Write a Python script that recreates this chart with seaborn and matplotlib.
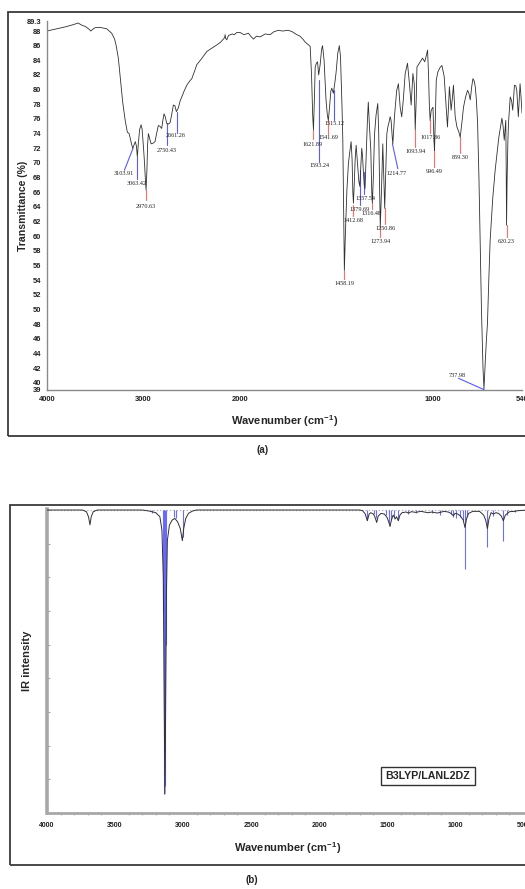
import numpy as np
import pandas as pd
import matplotlib
matplotlib.use("Agg")
import matplotlib.pyplot as plt
import seaborn as sns
from matplotlib.patches import Rectangle

# ---------------- data ----------------
# (a) experimental FT-IR spectrum: wavenumber (cm-1) and transmittance (%)
exp_wn = [4000, 3900, 3800, 3720, 3679, 3640, 3600, 3560, 3547, 3520, 3503, 3450, 3381, 3330, 3300,
          3285, 3261, 3244, 3216, 3190, 3168, 3150, 3140, 3125, 3112, 3100, 3085, 3074, 3064, 3055,
          3040, 3025, 3015, 3000, 2990, 2980, 2974, 2965, 2958, 2950, 2940, 2922, 2900, 2881, 2865,
          2847, 2830, 2812, 2800, 2788, 2775, 2760, 2740, 2725, 2710, 2691, 2675, 2660, 2640, 2620,
          2604, 2580, 2552, 2520, 2500, 2475, 2449, 2400, 2345, 2300, 2241, 2200, 2173, 2160, 2155,
          2150, 2138, 2120, 2100, 2080, 2060, 2034, 2000, 1980, 1957, 1945, 1931, 1915, 1896, 1870,
          1845, 1825, 1802, 1780, 1750, 1730, 1706, 1690, 1675, 1663, 1650, 1637, 1630, 1624, 1620,
          1616, 1611, 1605, 1599, 1593, 1585, 1578, 1573, 1565, 1555, 1548, 1543, 1537, 1530, 1525,
          1517, 1510, 1503, 1494, 1486, 1480, 1477, 1472, 1468, 1464, 1460, 1455, 1450, 1447, 1439,
          1432, 1425, 1420, 1416, 1413, 1409, 1404, 1399, 1395, 1391, 1385, 1380, 1375, 1370, 1366,
          1362, 1357, 1353, 1347, 1341, 1336, 1330, 1323, 1318, 1315, 1310, 1304, 1296, 1287, 1282,
          1278, 1274, 1268, 1261, 1256, 1251, 1246, 1240, 1234, 1228, 1223, 1218, 1212, 1209, 1200,
          1189, 1180, 1171, 1163, 1155, 1145, 1133, 1123, 1114, 1105, 1098, 1093, 1088, 1084, 1067,
          1055, 1044, 1036, 1029, 1024, 1020, 1016, 1010, 1001, 996, 993, 989, 984, 976, 965,
          955, 943, 933, 926, 920, 916, 907, 900, 895, 886, 877, 868, 860, 850, 843,
          832, 822, 815, 808, 800, 794, 788, 782, 776, 770, 763, 757, 750, 742, 737,
          730, 724, 719, 712, 705, 692, 679, 660, 644, 638, 632, 628, 624, 622, 620,
          617, 613, 610, 601, 594, 588, 579, 572, 567, 559, 550, 545, 540]
exp_T = [88.0, 88.3, 88.6, 88.9, 89.1, 88.8, 88.6, 88.2, 88.0, 88.3, 88.45, 88.5, 88.3, 87.7, 86.9,
         86.1, 84.3, 82.0, 78.3, 75.8, 74.2, 74.0, 73.5, 72.6, 72.0, 72.4, 72.9, 72.3, 70.8, 72.5,
         74.6, 75.2, 74.6, 72.0, 70.0, 67.5, 66.3, 69.0, 72.5, 74.0, 73.5, 72.6, 72.7, 72.9, 74.0,
         75.1, 75.0, 74.7, 75.8, 76.7, 76.3, 75.4, 75.3, 75.5, 76.5, 77.9, 77.8, 77.0, 77.5, 78.5,
         79.0, 79.8, 80.6, 81.2, 81.5, 82.4, 83.4, 84.2, 85.2, 85.6, 86.1, 86.5, 86.9, 87.1, 87.5,
         87.0, 86.8, 87.4, 87.5, 87.6, 87.5, 87.8, 87.8, 87.5, 87.7, 87.3, 86.9, 87.3, 87.2, 87.6,
         87.5, 87.9, 88.1, 88.0, 88.1, 87.9, 87.5, 87.3, 86.9, 86.5, 86.2, 85.9, 82.0, 76.5, 74.5,
         78.0, 83.1, 83.6, 83.8, 82.0, 83.5, 85.5, 86.0, 84.0, 78.6, 76.5, 75.8, 77.5, 79.8, 80.2,
         79.5, 80.8, 82.3, 85.0, 86.0, 84.5, 81.8, 77.5, 73.1, 64.0, 55.3, 60.0, 64.0, 66.2, 69.9,
         71.5, 72.9, 70.5, 66.0, 64.5, 67.0, 70.5, 72.4, 71.0, 69.4, 67.5, 66.8, 69.5, 72.0, 71.0,
         69.0, 67.0, 66.5, 71.0, 75.5, 78.3, 75.0, 71.7, 66.0, 64.5, 68.0, 73.8, 76.5, 78.1, 74.0,
         67.6, 61.2, 66.0, 72.6, 68.0, 63.8, 68.5, 74.0, 75.0, 75.6, 76.3, 75.8, 73.5, 72.6, 76.5,
         79.9, 80.8, 77.6, 76.3, 78.5, 82.2, 83.6, 80.8, 77.9, 82.2, 80.8, 74.5, 78.5, 83.1, 83.8,
         84.3, 83.8, 84.6, 85.4, 82.0, 78.1, 75.8, 77.2, 77.6, 73.0, 71.7, 76.0, 81.3, 82.4, 83.0,
         83.3, 81.8, 77.6, 74.9, 78.0, 80.4, 77.2, 79.0, 80.6, 76.3, 74.9, 74.3, 73.5, 75.8, 77.6,
         79.0, 79.9, 79.5, 78.6, 80.5, 81.5, 81.2, 80.4, 78.5, 75.4, 68.0, 59.4, 50.0, 42.0, 39.1,
         43.0, 46.0, 48.0, 54.0, 59.4, 65.0, 69.0, 73.5, 76.1, 75.0, 73.1, 74.5, 75.8, 70.0, 61.5,
         68.0, 73.0, 75.4, 79.0, 78.5, 77.2, 80.6, 80.5, 79.9, 76.3, 80.8, 79.0, 76.8]

# peak labels of (a): text, peak wavenumber, transmittance at the curve, colour class
peak_text = ["3103.91", "3063.42", "2970.63", "2750.43", "2661.26", "1621.89", "1593.24",
             "1541.69", "1515.12", "1458.19", "1412.68", "1379.69", "1357.54", "1316.48",
             "1273.94", "1250.86", "1214.77", "1093.94", "1017.86", "996.49", "859.30",
             "620.23", "737.98"]
peak_wn = [3109, 3064, 2974, 2760, 2656, 1622, 1593, 1543, 1512, 1460, 1413, 1379, 1356, 1318,
           1275, 1249, 1211, 1093, 1016, 995, 860, 620, 737]
peak_T = [72.0, 70.8, 66.3, 75.4, 77.0, 74.5, 81.3, 75.8, 79.9, 55.3, 64.2, 69.0, 68.7, 64.5,
          61.2, 63.8, 72.6, 74.5, 75.8, 71.7, 73.5, 61.5, 39.05]
peak_kind = ["b", "b", "r", "b", "b", "r", "b", "r", "b", "r", "r", "b", "b", "r",
             "r", "r", "b", "r", "r", "r", "r", "r", "b"]

# (b) calculated spectrum (B3LYP/LANL2DZ): broadened curve and stick intensities
calc_wn = [4000, 3740, 3710, 3695, 3684, 3675, 3660, 3630, 3300, 3250, 3200, 3170, 3155, 3145,
           3138, 3133, 3128, 3122, 3115, 3100, 3080, 3060, 3040, 3020, 3005, 2995, 2980, 2960,
           2930, 2900, 1700, 1680, 1660, 1645, 1632, 1620, 1600, 1590, 1576, 1565, 1545, 1520,
           1500, 1488, 1478, 1468, 1455, 1445, 1441, 1430, 1417, 1405, 1390, 1360, 1343, 1320,
           1290, 1250, 1200, 1170, 1130, 1110, 1080, 1050, 1030, 1013, 1000, 980, 960, 940,
           927, 915, 900, 870, 820, 790, 775, 762, 750, 735, 718, 700, 680, 660, 645, 630,
           620, 600, 560, 540, 460]
calc_I = [0, 0, 5, 20, 44, 20, 5, 0, 0, 3, 8, 20, 60, 200,
          600, 843, 600, 250, 90, 45, 30, 25, 35, 55, 91, 55, 25, 10,
          3, 0, 0, 2, 12, 32, 12, 8, 12, 20, 37, 18, 10, 12,
          22, 35, 49, 30, 15, 22, 27, 20, 32, 15, 8, 6, 9, 5,
          7, 4, 8, 6, 9, 7, 4, 6, 10, 17, 10, 12, 18, 30,
          52, 25, 10, 4, 4, 15, 30, 55, 25, 8, 12, 8, 10, 18, 32, 15,
          12, 5, 4, 2, 0]
stick_wn = [3231, 3147, 3140, 3134, 3127, 3063, 3052, 3002, 1650, 1596, 1578, 1510, 1485, 1473,
            1448, 1422, 1343, 1290, 1171, 1110, 1030, 1013, 990, 960, 940, 927, 915, 762, 718,
            645, 620, 559]
stick_I = [10, 300, 843, 820, 400, 20, 25, 80, 30, 12, 25, 15, 40, 30,
           20, 28, 12, 8, 10, 14, 12, 20, 25, 20, 30, 176, 20, 111, 17,
           91, 15, 6]

# ---------------- style ----------------
sns.set_theme(style="white")
plt.rcParams["font.family"] = ["Liberation Sans", "DejaVu Sans"]
plt.rcParams["mathtext.fontset"] = "custom"
plt.rcParams["mathtext.rm"] = "Liberation Sans"
plt.rcParams["mathtext.bf"] = "Liberation Sans:bold"

W, H = 525, 889
fig = plt.figure(figsize=(W / 100, H / 100), dpi=100)


def fx(px):
    return px / W


def fy(py):
    return 1 - py / H


# frames around the two panels
fig.add_artist(Rectangle((fx(8), fy(436)), 1.0, (436 - 12) / H, transform=fig.transFigure,
                         fill=False, ec="#3a3a3a", lw=1.3))
fig.add_artist(Rectangle((fx(10), fy(865)), 1.0, (865 - 505) / H, transform=fig.transFigure,
                         fill=False, ec="#3a3a3a", lw=1.3))

# ---------------- panel (a) ----------------
ax1 = fig.add_axes([fx(47), fy(390), 475 / W, (390 - 21.5) / H])
df_exp = pd.DataFrame({"wn": exp_wn, "T": exp_T})
sns.lineplot(data=df_exp, x="wn", y="T", ax=ax1, color="#303030", lw=0.6,
             sort=False, estimator=None)


def fwd(w):
    w = np.asarray(w, dtype=float)
    return np.where(w >= 2000, w, 2000 - 2 * (2000 - w))


def inv(v):
    v = np.asarray(v, dtype=float)
    return np.where(v >= 2000, v, 2000 - (2000 - v) / 2)


ax1.set_xscale("function", functions=(fwd, inv))
ax1.set_xlim(4000, 540)
ax1.set_ylim(39, 89.3)
xt = [4000, 3000, 2000, 1000, 540]
ax1.set_xticks(xt)
ax1.set_xticklabels([str(v) for v in xt], fontsize=5.4, fontweight="bold")
yt = [39] + list(range(40, 89, 2)) + [89.3]
ax1.set_yticks(yt)
ax1.set_yticklabels([str(v) for v in yt], fontsize=5.4, fontweight="bold")
ax1.minorticks_off()
for s in ["top", "right"]:
    ax1.spines[s].set_visible(False)
for s in ["left", "bottom"]:
    ax1.spines[s].set_color("#8a8a8a")
    ax1.spines[s].set_linewidth(1.0)
ax1.tick_params(axis="both", direction="out", length=2.5, width=0.6, color="#8a8a8a",
                pad=1.5, labelcolor="#202020")
ax1.set_xlabel("Wavenumber (cm$^{\\mathbf{-1}}$)", fontsize=8, fontweight="bold", labelpad=8)
ax1.set_ylabel("Transmittance (%)", fontsize=7.6, fontweight="bold", labelpad=-0.5)

# peak annotations (label placement in data units)
lab_wn = [3207, 3070, 2974, 2760, 2663, 1625, 1589, 1543, 1513, 1460, 1413, 1382, 1353, 1318,
          1275, 1249, 1188, 1093, 1016, 995, 860, 623, 874]
lab_T = [68.5, 67.2, 64.0, 71.7, 73.7, 72.5, 69.6, 73.5, 75.4, 53.6, 62.1, 63.7, 65.2, 63.1,
         59.3, 61.1, 68.5, 71.6, 73.5, 68.8, 70.7, 59.3, 41.0]
line_end_wn = [3198, 3064, 2974, 2760, 2656, 1622, 1593, 1543, 1512, 1460, 1413, 1379, 1356, 1318,
               1275, 1249, 1183, 1093, 1016, 995, 860, 620, 869]
line_end_T = [69.0, 67.85, 64.9, 72.4, 74.1, 73.3, 70.1, 74.0, 75.9, 54.2, 62.8, 64.2, 65.7, 63.7,
              59.9, 61.7, 69.2, 72.2, 74.1, 69.4, 71.35, 59.9, 40.6]
colors = {"b": "#5a5aff", "r": "#ff6a6a"}
for t, w0, t0, k, lw_, lt_, ew, et in zip(peak_text, peak_wn, peak_T, peak_kind,
                                          lab_wn, lab_T, line_end_wn, line_end_T):
    ax1.plot([w0, ew], [t0, et], color=colors[k], lw=0.8, zorder=1)
    ax1.text(lw_, lt_, t, fontsize=4.4, family=["Liberation Serif", "DejaVu Serif"],
             ha="center", va="center", color="#202020", zorder=3)

fig.text(fx(263), fy(450), "(a)", fontsize=7, fontweight="bold", ha="center", va="center")

# ---------------- panel (b) ----------------
ax2 = fig.add_axes([fx(47), fy(813), 481.5 / W, (813 - 509) / H])
ax2.axhline(0, color="#b0b0b0", ls=":", lw=0.9, zorder=0)
ax2.vlines(stick_wn, 0, stick_I, color="#3b3bff", lw=0.8, alpha=0.75, zorder=2)
df_calc = pd.DataFrame({"wn": calc_wn, "I": calc_I})
sns.lineplot(data=df_calc, x="wn", y="I", ax=ax2, color="#303030", lw=0.7,
             sort=False, estimator=None, zorder=3)
ax2.set_xlim(4000, 460)
ax2.set_ylim(900, -3)
ax2.set_xticks(np.arange(4000, 499, -500))
ax2.set_xticklabels([str(v) for v in range(4000, 499, -500)], fontsize=5, fontweight="bold")
ax2.set_xticks(np.arange(4000, 459, -100), minor=True)
ax2.set_yticks(np.arange(0, 901, 100))
ax2.set_yticklabels([])
for s in ["top", "right"]:
    ax2.spines[s].set_visible(False)
ax2.spines["left"].set_color("#a8a8a8")
ax2.spines["left"].set_linewidth(2.6)
ax2.spines["bottom"].set_color("#a8a8a8")
ax2.spines["bottom"].set_linewidth(2.0)
ax2.tick_params(axis="x", which="major", direction="out", length=2.5, width=0.7,
                color="#909090", pad=4, labelcolor="#202020")
ax2.tick_params(axis="x", which="minor", direction="out", length=1.5, width=0.5,
                color="#909090", bottom=True)
ax2.tick_params(axis="y", direction="in", length=2, width=0.6, color="#909090", left=True)
ax2.set_xlabel("Wavenumber (cm$^{\\mathbf{-1}}$)", fontsize=8, fontweight="bold", labelpad=8)
ax2.set_ylabel("IR intensity", fontsize=8, fontweight="bold", labelpad=7.5)

fig.text(fx(428), fy(776), "B3LYP/LANL2DZ", fontsize=7.7, fontweight="bold",
         ha="center", va="center",
         bbox=dict(boxstyle="square,pad=0.4", fc="white", ec="#333333", lw=1.0))
fig.text(fx(252), fy(880), "(b)", fontsize=7, fontweight="bold", ha="center", va="center")

fig.savefig("out.png", dpi=100)
